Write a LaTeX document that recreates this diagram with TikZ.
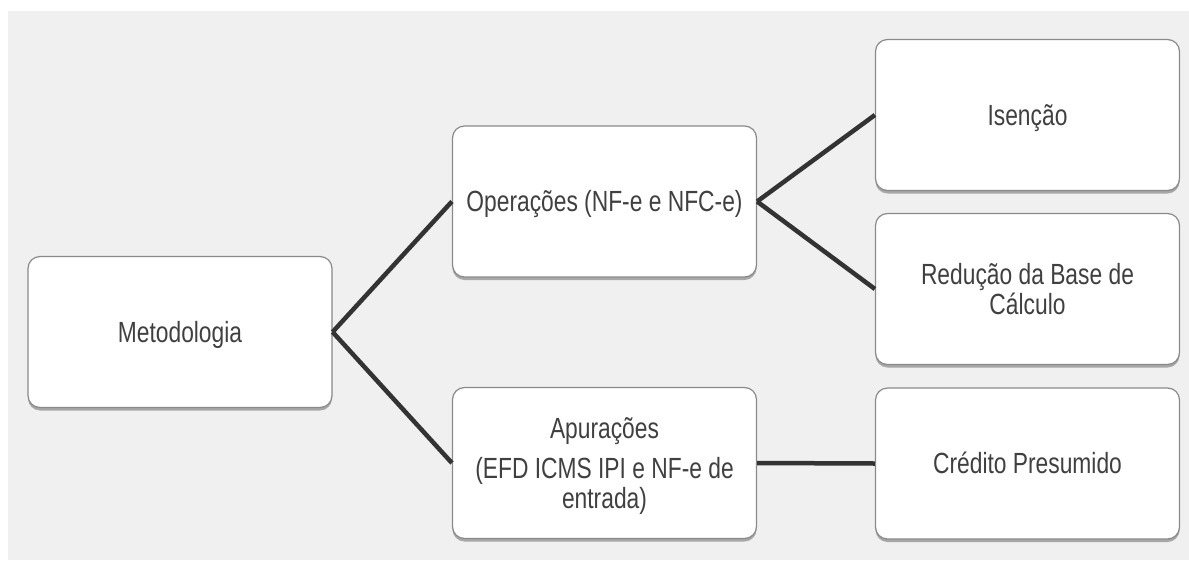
\documentclass[tikz,border=0pt]{standalone}
\usepackage{fontspec}
\usepackage{graphicx}
\setmainfont{Liberation Sans}
\usetikzlibrary{shadows}
\definecolor{bggray}{HTML}{F0F0F0}
\definecolor{boxline}{HTML}{8A8A8A}
\definecolor{txtgray}{HTML}{404040}
\definecolor{linkgray}{HTML}{333333}
\newcommand{\vtxt}[1]{\scalebox{1}[1.28]{\begin{tabular}{@{}c@{}}\rule{0pt}{23.1pt}#1\end{tabular}}}
\tikzset{
  box/.style={draw=boxline, line width=1.2pt, fill=white, rounded corners=12pt,
    minimum width=304pt, minimum height=151pt, inner sep=0pt,
    text=txtgray, font=\fontsize{22.8}{23.4}\selectfont,
    drop shadow={shadow xshift=0pt, shadow yshift=-3pt, opacity=0.3, fill=black}},
  link/.style={draw=linkgray, line width=4.5pt}
}
\begin{document}
\begin{tikzpicture}[x=1pt,y=-1pt]
\useasboundingbox (0,0) rectangle (1189,560);
\fill[bggray] (8,11) rectangle (1189,560);
\node[box] (m) at (180,332) {\vtxt{Metodologia}};
\node[box] (o) at (604.5,201.5) {\vtxt{Operações (NF-e e NFC-e)}};
\node[box] (a) at (604.5,463) {\vtxt{Apurações\\[7.8pt](EFD ICMS IPI e NF-e de\\entrada)}};
\node[box] (i) at (1027.5,115) {\vtxt{Isenção}};
\node[box] (r) at (1027.5,289) {\vtxt{Redução da Base de\\Cálculo}};
\node[box] (c) at (1027.5,463.5) {\vtxt{Crédito Presumido}};
\draw[link] (m.east) -- (o.west);
\draw[link] (m.east) -- (a.west);
\draw[link] (o.east) -- (i.west);
\draw[link] (o.east) -- (r.west);
\draw[link] (a.east) -- (c.west);
\end{tikzpicture}
\end{document}
